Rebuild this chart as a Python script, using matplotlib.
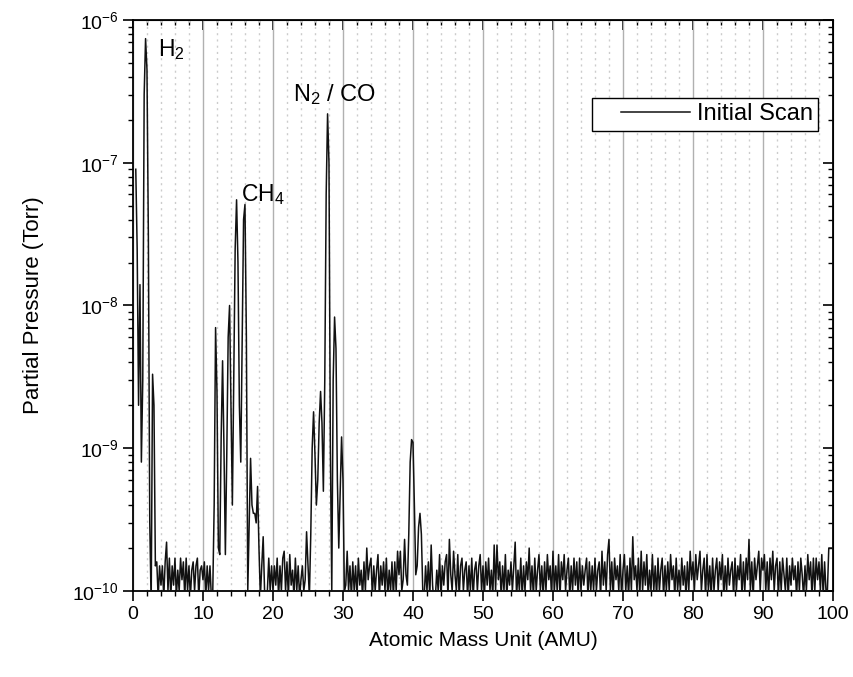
import numpy as np
import matplotlib
matplotlib.use('Agg')
import matplotlib.pyplot as plt
from matplotlib.ticker import MultipleLocator, FixedLocator, FuncFormatter, NullFormatter
from matplotlib.legend_handler import HandlerLine2D

plt.rcParams['font.family'] = ['Liberation Sans', 'DejaVu Sans']
plt.rcParams['mathtext.default'] = 'regular'

# scan positions, 0.2 AMU apart
mass = np.round(np.arange(0, 100.001, 0.2), 1)

# noise floor, units of 1e-10 Torr, one row per 10 AMU
floor_0 = [0.8,0.8,0.8,0.8,0.8,0.8,0.8,0.8,0.8,0.8,
           0.8,0.8,0.8,0.8,0.8,0.8,0.8,1.6,0.9,1.5,
           1.1,1.5,0.9,1.6,2.2,1.0,1.7,0.9,1.5,1.1,
           1.7,0.9,1.4,1.0,1.7,1.2,1.6,0.9,1.7,1.0,
           1.5,0.9,1.4,1.6,1.0,1.5,1.7,0.9,1.4,1.5]
floor_10 = [1.2,1.6,0.9,1.5,1.0,1.5,0.9,1.0,1.0,1.0,
            1.0,1.0,1.0,1.0,1.0,1.0,1.0,1.0,1.0,1.0,
            1.0,1.0,1.0,1.0,1.0,1.0,1.0,1.0,1.0,1.0,
            1.0,1.0,1.0,1.0,1.0,1.0,1.0,1.0,1.0,1.0,
            1.0,1.0,1.0,1.0,1.0,1.0,1.0,1.7,1.0,1.5]
floor_20 = [1.0,1.5,1.1,1.7,0.9,1.5,1.0,1.7,1.9,1.0,
            1.6,0.9,1.8,1.1,1.4,0.9,1.7,1.0,1.5,0.9,
            1.2,1.5,1.0,1.0,1.0,1.0,1.0,1.0,1.0,1.0,
            1.0,1.0,1.0,1.0,1.0,1.0,1.0,1.0,1.0,1.0,
            1.0,1.0,1.0,1.0,1.0,1.0,1.0,1.0,1.0,1.0]
floor_30 = [1.0,1.0,1.0,1.0,1.0,1.5,0.9,1.6,1.0,1.5,
            0.9,1.7,1.1,1.4,0.9,1.6,1.0,2.0,1.2,1.5,
            1.7,0.9,1.5,1.0,1.4,1.8,0.9,1.5,1.1,1.6,
            1.0,1.7,0.9,1.4,1.0,1.6,0.9,1.6,1.0,1.9,
            1.3,1.9,1.0,1.0,1.0,1.0,1.0,1.0,1.0,1.0]
floor_40 = [1.0,1.0,1.0,1.0,1.0,1.0,1.0,1.0,0.9,1.5,
            1.0,1.6,0.9,2.1,1.1,0.8,0.9,1.4,1.0,1.8,
            0.9,1.5,1.1,1.6,1.8,0.9,2.3,1.3,1.0,1.9,
            1.3,1.0,1.8,0.9,1.5,1.7,1.0,1.4,1.6,0.9,
            1.5,1.0,1.7,0.9,1.4,1.6,1.0,1.5,1.8,1.0]
floor_50 = [1.5,0.9,1.6,1.1,1.7,1.0,1.4,0.9,2.1,1.0,
            2.1,1.2,1.6,0.9,1.5,1.0,1.8,0.9,1.4,1.1,
            1.6,1.0,1.5,2.2,0.9,1.4,1.0,1.7,0.9,1.5,
            1.0,1.6,1.2,2.0,1.0,1.5,0.9,1.7,1.0,1.4,
            1.8,1.0,1.5,0.9,1.6,1.0,1.8,1.2,1.5,0.9]
floor_60 = [1.9,1.0,1.5,1.0,1.8,0.9,1.6,1.2,1.8,1.0,
            1.4,1.7,0.9,1.5,1.0,1.7,1.1,1.6,0.9,1.7,
            1.0,1.5,1.1,1.4,1.7,0.9,1.6,1.0,1.5,1.0,
            1.7,1.0,1.4,1.6,0.9,1.9,1.1,1.6,1.0,1.8,
            2.3,1.0,1.6,0.9,1.7,1.2,1.5,1.0,1.8,0.9]
floor_70 = [1.4,1.8,1.0,1.5,0.9,1.7,1.0,2.4,1.2,1.5,
            1.0,1.7,0.9,1.9,1.0,1.6,1.1,1.8,0.9,1.4,
            1.0,1.8,1.0,1.5,0.9,1.7,1.0,1.4,1.7,0.9,
            1.5,1.0,1.6,1.0,1.8,1.2,1.5,0.9,1.7,1.0,
            1.4,1.0,1.7,1.1,1.5,0.9,1.6,1.0,1.9,1.2]
floor_80 = [1.6,1.0,1.8,1.2,1.5,1.9,1.0,1.4,1.7,0.9,
            1.8,1.0,1.5,0.9,1.7,1.0,1.4,1.7,1.0,1.6,
            1.2,1.8,0.9,1.5,1.0,1.7,1.1,1.4,1.6,0.9,
            1.7,1.0,1.5,1.2,1.8,0.9,1.6,1.0,1.7,1.2,
            2.3,1.0,1.6,0.9,1.7,1.2,1.5,1.9,1.0,1.7]
floor_90 = [1.4,1.8,1.0,1.6,0.9,1.7,1.2,1.9,1.0,1.5,
            1.7,0.9,1.6,1.0,1.7,1.3,1.0,1.7,0.9,1.5,
            1.1,1.7,1.2,1.5,0.9,1.6,1.0,1.7,1.3,0.9,
            1.5,1.0,1.8,1.2,1.6,0.9,1.7,1.0,1.7,1.2,
            1.6,1.0,1.8,0.9,1.6,1.0,1.0,2.0,2.0,2.0,
            2.0]

# peak regions (Torr), consecutive 0.2 AMU samples from the given start mass
h2_start = 0.4
h2_vals = [9e-8, 2.5e-8, 2.0e-9, 1.4e-8, 8e-10, 3e-9, 3e-7, 7.4e-7, 4.5e-7,
           3e-8, 3e-10, 8e-11, 3.3e-9, 2.0e-9, 1.5e-10]
ch4_start = 11.4
ch4_vals = [1.0e-10, 4e-10, 7e-9, 2.5e-9, 2e-10, 1.8e-10, 1.2e-9, 4.1e-9, 1.0e-9,
            1.8e-10, 9e-10, 6e-9, 1.0e-8, 2e-9, 4e-10, 3e-9, 2.5e-8, 5.5e-8, 2e-8,
            2e-9, 8e-10, 6e-9, 4e-8, 5.1e-8, 6e-9, 1.0e-10, 3e-10, 8.5e-10, 4e-10,
            3.5e-10, 3.5e-10, 3e-10, 5.4e-10, 2e-10, 0.9e-10, 1.5e-10, 2.4e-10, 1.0e-10]
n2_start = 24.6
n2_vals = [1.2e-10, 2.6e-10, 1.5e-10, 0.9e-10, 2.5e-10, 1.0e-9, 1.8e-9, 9e-10,
           4e-10, 6e-10, 1.5e-9, 2.5e-9, 1.5e-9, 5e-10, 3e-9, 6e-8, 2.2e-7, 1e-7,
           1e-9, 1e-10, 3e-9, 8.3e-9, 5e-9, 6e-10, 2e-10, 5e-10, 1.2e-9, 6e-10,
           1e-10, 1.1e-10, 1.9e-10, 1.0e-10]
ar_start = 38.6
ar_vals = [1.2e-10, 2.3e-10, 1.3e-10, 1.1e-10, 2.5e-10, 8e-10, 1.15e-9, 1.1e-9,
           4e-10, 1.3e-10, 1.5e-10, 2.8e-10, 3.5e-10, 2.5e-10, 1.0e-10]

decades = [1e-10, 1e-9, 1e-8, 1e-7, 1e-6]

pressure = np.array(floor_0 + floor_10 + floor_20 + floor_30 + floor_40 +
                    floor_50 + floor_60 + floor_70 + floor_80 + floor_90) * 1e-10
for start, vals in [(h2_start, h2_vals), (ch4_start, ch4_vals),
                    (n2_start, n2_vals), (ar_start, ar_vals)]:
    i = int(round(start / 0.2))
    pressure[i:i + len(vals)] = vals

first = int(round(h2_start / 0.2))
minor_y = [m * d for d in decades[:-1] for m in range(2, 10)]


class ShortLine(HandlerLine2D):
    # legend sample line that leaves some blank space on its left
    def get_xdata(self, legend, xdescent, ydescent, width, height, fontsize):
        x0 = -xdescent + 0.25 * width
        return np.array([x0, -xdescent + width]), np.array([x0, -xdescent + width])


fig = plt.figure(figsize=(8.54, 6.77), dpi=100)
ax = fig.add_axes([0.1557, 0.127, 0.8197, 0.8435])

line, = ax.plot(mass[first:], pressure[first:], color='#111111', lw=1.1,
                label='Initial Scan', zorder=3)

ax.set_yscale('log')
ax.set_xlim(0, 100)
ax.set_ylim(1e-10, 1e-6)

ax.xaxis.set_major_locator(MultipleLocator(10))
ax.xaxis.set_minor_locator(MultipleLocator(2))
ax.yaxis.set_major_locator(FixedLocator(decades))
ax.yaxis.set_minor_locator(FixedLocator(minor_y))
ax.yaxis.set_minor_formatter(NullFormatter())
ax.yaxis.set_major_formatter(FuncFormatter(lambda v, p: r'10$^{%d}$' % round(np.log10(v))))

ax.grid(True, which='major', axis='x', color='#b0b0b0', lw=1.0, ls='-', zorder=0)
ax.grid(True, which='minor', axis='x', color='#cccccc', lw=1.0, ls=(0, (1.5, 3)), zorder=0)

ax.tick_params(which='major', direction='out', length=7, width=1.2, labelsize=14)
ax.tick_params(which='minor', direction='out', length=3.5, width=1.0)
for s in ax.spines.values():
    s.set_linewidth(1.3)

# mirrored ticks on top and right, pointing inward
top = ax.secondary_xaxis('top')
top.xaxis.set_major_locator(MultipleLocator(10))
top.xaxis.set_minor_locator(MultipleLocator(2))
top.tick_params(which='major', direction='in', length=7, width=1.2, labeltop=False)
top.tick_params(which='minor', direction='in', length=3.5, width=1.0)
right = ax.secondary_yaxis('right')
right.yaxis.set_major_locator(FixedLocator(decades))
right.yaxis.set_minor_locator(FixedLocator(minor_y))
right.yaxis.set_minor_formatter(NullFormatter())
right.tick_params(which='major', direction='in', length=7, width=1.2, labelright=False)
right.tick_params(which='minor', direction='in', length=3.5, width=1.0, labelright=False)

ax.set_xlabel('Atomic Mass Unit (AMU)', fontsize=15, labelpad=6)
ax.set_ylabel('Partial Pressure (Torr)', fontsize=16, labelpad=20)

ax.text(3.6, 6.2e-7, r'H$_2$', fontsize=16.5, va='center', ha='left')
ax.text(15.5, 6.0e-8, r'CH$_4$', fontsize=16.5, va='center', ha='left')
ax.text(22.8, 3.0e-7, r'N$_2$ / CO', fontsize=17, va='center', ha='left')

leg = ax.legend(loc='upper right', bbox_to_anchor=(0.9786, 0.863), fontsize=17,
                frameon=True, fancybox=False, framealpha=1, edgecolor='black',
                handlelength=3.9, handletextpad=0.3, borderpad=0.22, borderaxespad=0,
                handler_map={line: ShortLine()})
leg.get_frame().set_linewidth(1.0)

fig.savefig('out.png', dpi=100)
